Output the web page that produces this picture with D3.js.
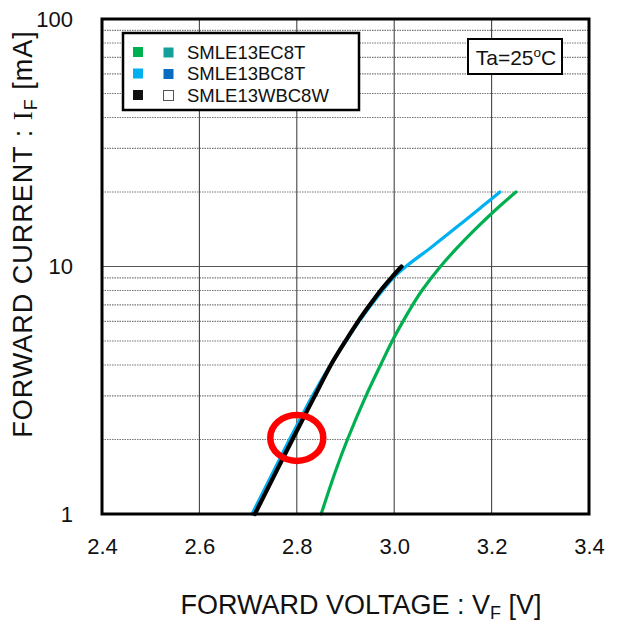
<!DOCTYPE html>
<html>
<head>
<meta charset="utf-8">
<script src="https://cdn.jsdelivr.net/npm/d3@7"></script>
<style>
  body { margin: 0; background: #fff; }
  svg { display: block; font-family: "Liberation Sans", Arial, sans-serif; }
</style>
</head>
<body>
<svg id="chart" width="619" height="624"></svg>
<script>
// forward current values [mA]
const greenCurrent = [1, 1.5, 2, 3, 4, 5, 6, 7, 8, 10, 12, 14, 17, 20];
const greenVoltage = [2.850, 2.880, 2.904, 2.942, 2.972, 2.996, 3.018, 3.038, 3.057, 3.095, 3.131, 3.164, 3.209, 3.250];

const blueCurrent = [1, 1.5, 2, 3, 4, 5, 6, 7, 8, 9, 10, 12, 15, 17.5, 20];
const blueVoltage = [2.708, 2.753, 2.785, 2.832, 2.869, 2.901, 2.928, 2.953, 2.976, 2.998, 3.024, 3.077, 3.139, 3.181, 3.217];

const blackCurrent = [1, 1.5, 2, 3, 4, 5, 6, 7, 8, 9, 10];
const blackVoltage = [2.714, 2.759, 2.791, 2.837, 2.870, 2.900, 2.926, 2.950, 2.972, 2.994, 3.015];

// tick labels
const xTicks = [2.4, 2.6, 2.8, 3.0, 3.2, 3.4];
const yTicks = [1, 10, 100];

// legend entries
const legendNames = ["SMLE13EC8T", "SMLE13BC8T", "SMLE13WBC8W"];
const legendColorsA = ["#00b050", "#00b0f0", "#111111"];
const legendColorsB = ["#14a098", "#0a6cc0", "#ffffff"];

// where the hand drawn red mark sits (data coords)
const markVoltage = 2.80;
const markCurrent = 2.03;

const svg = d3.select("#chart");

// plot frame
const plotLeft = 102, plotRight = 589, plotTop = 19, plotBottom = 514;

const x = d3.scaleLinear().domain([2.4, 3.4]).range([plotLeft, plotRight]);
const y = d3.scaleLog().domain([1, 100]).range([plotBottom, plotTop]);

// minor horizontal grid, dotted
const minor = y.ticks().filter(d => !yTicks.includes(d));
svg.append("g")
    .selectAll("line")
    .data(minor)
    .join("line")
    .attr("x1", plotLeft).attr("x2", plotRight)
    .attr("y1", d => y(d)).attr("y2", d => y(d))
    .attr("stroke", "#777")
    .attr("stroke-width", 1.2)
    .attr("stroke-dasharray", "1.5,1");

// major horizontal grid (10 mA)
svg.append("g")
    .selectAll("line")
    .data(yTicks.slice(1, -1))
    .join("line")
    .attr("x1", plotLeft).attr("x2", plotRight)
    .attr("y1", d => y(d)).attr("y2", d => y(d))
    .attr("stroke", "#555")
    .attr("stroke-width", 1.2);

// vertical grid
svg.append("g")
    .selectAll("line")
    .data(xTicks.slice(1, -1))
    .join("line")
    .attr("x1", d => x(d)).attr("x2", d => x(d))
    .attr("y1", plotTop).attr("y2", plotBottom)
    .attr("stroke", "#444")
    .attr("stroke-width", 1.1);

// curves
const line = d3.line()
    .x(d => x(d[0]))
    .y(d => y(d[1]))
    .curve(d3.curveCatmullRom.alpha(0.5));

function drawCurve(volts, amps, color, width) {
    svg.append("path")
        .datum(volts.map((v, i) => [v, amps[i]]))
        .attr("d", line)
        .attr("fill", "none")
        .attr("stroke", color)
        .attr("stroke-width", width)
        .attr("stroke-linecap", "round");
}

drawCurve(greenVoltage, greenCurrent, "#00b050", 3.2);
drawCurve(blueVoltage, blueCurrent, "#00b0f0", 3.2);
drawCurve(blackVoltage, blackCurrent, "#000", 4.2);

// frame
svg.append("rect")
    .attr("x", plotLeft).attr("y", plotTop)
    .attr("width", plotRight - plotLeft).attr("height", plotBottom - plotTop)
    .attr("fill", "none")
    .attr("stroke", "#000")
    .attr("stroke-width", 3);

// axes: labels only, lines come from the grid and frame
const xAxis = svg.append("g")
    .attr("transform", `translate(0,${plotBottom})`)
    .call(d3.axisBottom(x).tickValues(xTicks).tickFormat(d3.format(".1f")).tickSize(0).tickPadding(24));
xAxis.select(".domain").remove();
xAxis.selectAll("text")
    .attr("font-size", 22)
    .attr("font-family", "Liberation Sans, Arial, sans-serif")
    .attr("fill", "#111");

const yAxis = svg.append("g")
    .attr("transform", `translate(${plotLeft},0)`)
    .call(d3.axisLeft(y).tickValues(yTicks).tickFormat(d3.format("d")).tickSize(0).tickPadding(29));
yAxis.select(".domain").remove();
yAxis.selectAll("text")
    .attr("font-size", 22)
    .attr("font-family", "Liberation Sans, Arial, sans-serif")
    .attr("fill", "#111");

// legend box
const lg = svg.append("g");
lg.append("rect")
    .attr("x", 123).attr("y", 33)
    .attr("width", 236).attr("height", 77)
    .attr("fill", "#fff")
    .attr("stroke", "#000")
    .attr("stroke-width", 2.5);

legendNames.forEach((name, i) => {
    const cy = 52 + i * 21.5;
    lg.append("rect")
        .attr("x", 133).attr("y", cy - 5)
        .attr("width", 10).attr("height", 10)
        .attr("fill", legendColorsA[i]);
    lg.append("rect")
        .attr("x", 163.5).attr("y", cy - 4.5)
        .attr("width", 10).attr("height", 10)
        .attr("fill", legendColorsB[i])
        .attr("stroke", i == 2 ? "#555" : "none")
        .attr("stroke-width", 1);
    lg.append("text")
        .attr("x", 187).attr("y", cy + 6.5)
        .attr("font-size", 18.5)
        .attr("fill", "#111")
        .text(name);
});

// Ta box
svg.append("rect")
    .attr("x", 468).attr("y", 39)
    .attr("width", 94).attr("height", 35)
    .attr("fill", "#fff")
    .attr("stroke", "#000")
    .attr("stroke-width", 2);
const ta = svg.append("text")
    .attr("x", 516).attr("y", 64.5)
    .attr("text-anchor", "middle")
    .attr("font-size", 21)
    .attr("fill", "#111");
ta.append("tspan").text("Ta=25");
ta.append("tspan").attr("font-size", 13.5).attr("dy", -7.5).text("o");
ta.append("tspan").attr("dy", 7.5).text("C");

// axis titles
const xt = svg.append("text")
    .attr("x", 361).attr("y", 614)
    .attr("text-anchor", "middle")
    .attr("font-size", 27)
    .attr("fill", "#111");
xt.append("tspan").text("FORWARD VOLTAGE : V");
xt.append("tspan").attr("font-size", 18).attr("dy", 5).text("F");
xt.append("tspan").attr("dy", -5).text(" [V]");

const yt = svg.append("text")
    .attr("transform", "translate(32,234) rotate(-90)")
    .attr("text-anchor", "middle")
    .attr("font-size", 27)
    .attr("letter-spacing", 1)
    .attr("fill", "#111");
yt.append("tspan").text("FORWARD CURRENT : ");
yt.append("tspan").attr("font-family", "Liberation Serif, serif").text("I");
yt.append("tspan").attr("font-size", 18).attr("dy", 5).text("F");
yt.append("tspan").attr("dy", -5).text(" [mA]");

// red hand drawn circle
svg.append("ellipse")
    .attr("cx", x(markVoltage))
    .attr("cy", y(markCurrent))
    .attr("rx", 26.5).attr("ry", 23)
    .attr("fill", "none")
    .attr("stroke", "#ff0000")
    .attr("stroke-width", 6.5);
</script>
</body>
</html>
